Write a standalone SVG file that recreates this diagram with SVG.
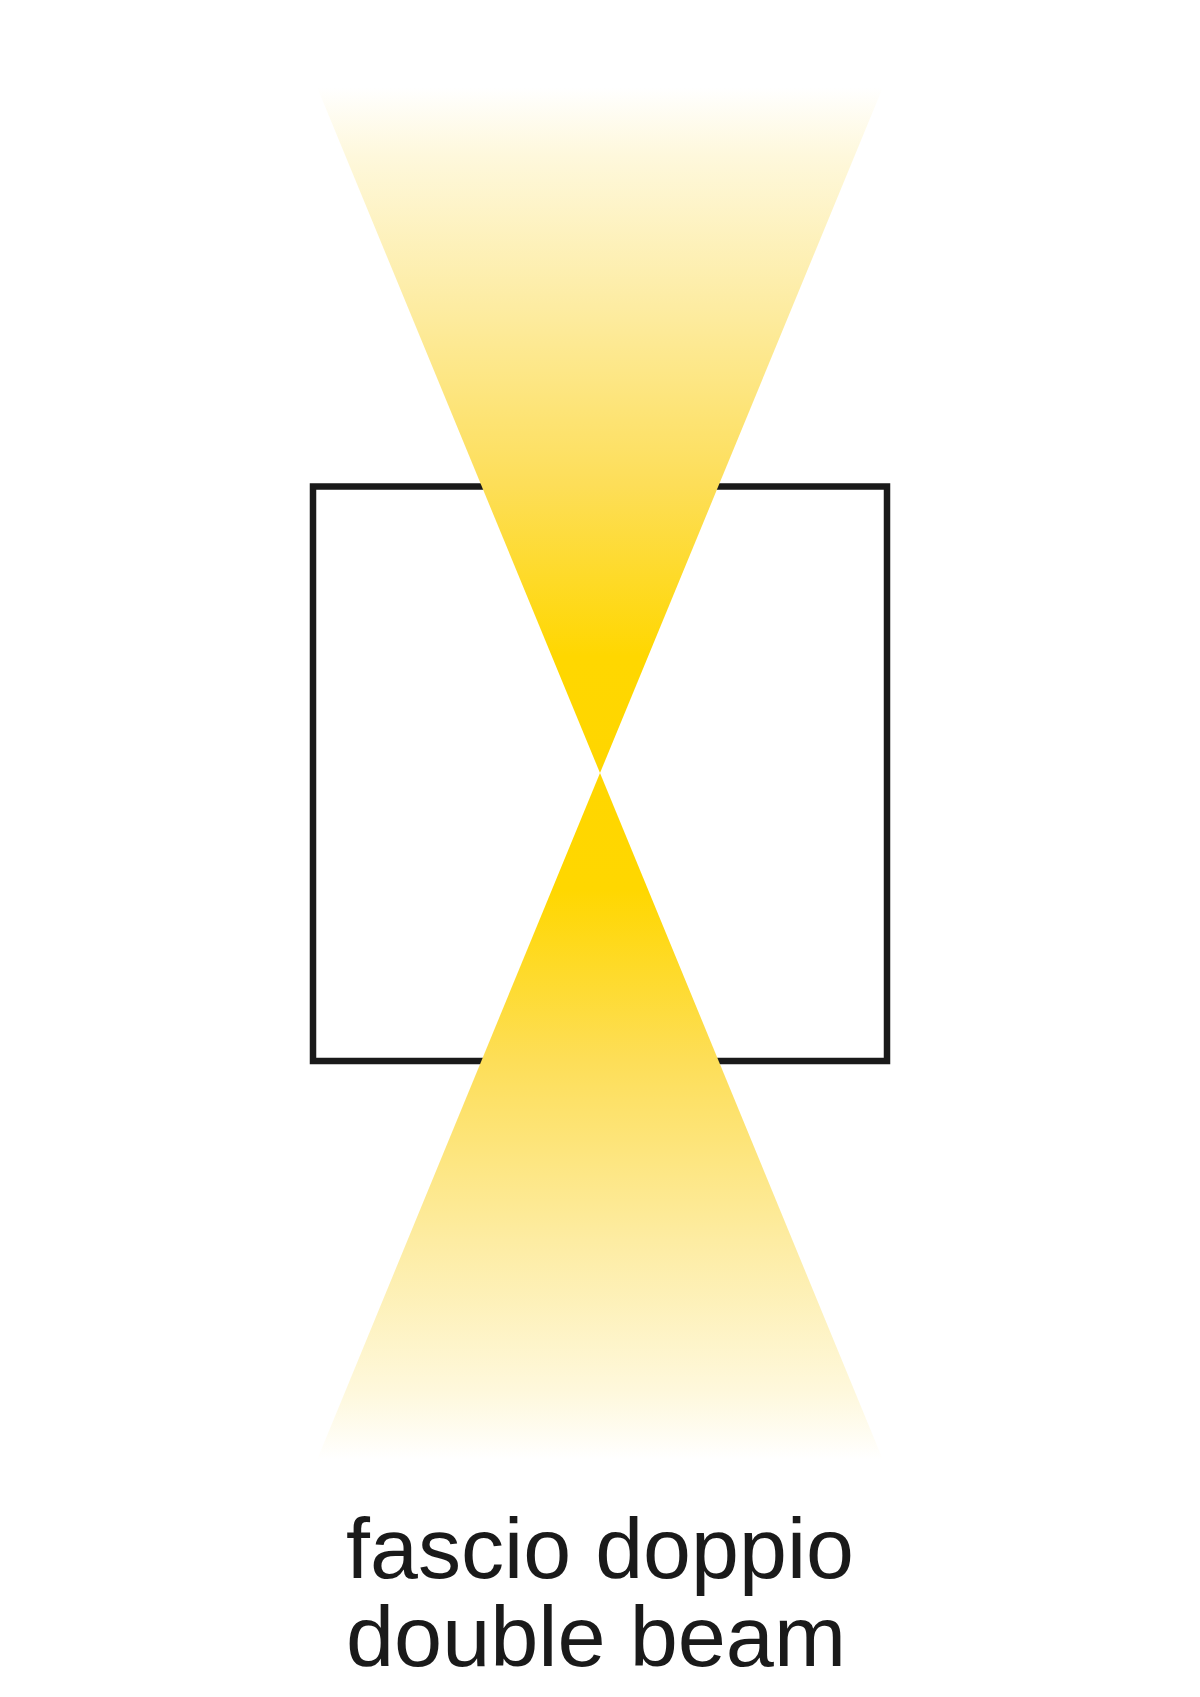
<svg xmlns="http://www.w3.org/2000/svg" width="1200" height="1697" viewBox="0 0 1200 1697">
  <defs>
    <linearGradient id="beamUp" gradientUnits="userSpaceOnUse" x1="0" y1="773" x2="0" y2="87">
      <stop offset="0" stop-color="#FFD600"/>
      <stop offset="0.17" stop-color="#FFD700"/>
      <stop offset="0.42" stop-color="#FDDE58"/>
      <stop offset="0.68" stop-color="#FDECA2"/>
      <stop offset="0.9" stop-color="#FEF8DC"/>
      <stop offset="1" stop-color="#FFFFFF"/>
    </linearGradient>
    <linearGradient id="beamDown" gradientUnits="userSpaceOnUse" x1="0" y1="773" x2="0" y2="1460">
      <stop offset="0" stop-color="#FFD600"/>
      <stop offset="0.17" stop-color="#FFD700"/>
      <stop offset="0.42" stop-color="#FDDE58"/>
      <stop offset="0.68" stop-color="#FDECA2"/>
      <stop offset="0.9" stop-color="#FEF8DC"/>
      <stop offset="1" stop-color="#FFFFFF"/>
    </linearGradient>
  </defs>
  <style>
    .frame { fill: none; stroke: #1a1a1a; stroke-width: 6.5; }
    .label { font-family: "Liberation Sans", Arial, sans-serif; font-size: 86px; fill: #1a1a1a; }
  </style>
  <rect width="1200" height="1697" fill="#FFFFFF"/>
  <g id="fixture">
    <rect class="frame" x="313" y="486.5" width="574" height="574.5"/>
  </g>
  <g id="beam-up">
    <polygon points="600,773 317,87 883,87" fill="url(#beamUp)"/>
  </g>
  <g id="beam-down">
    <polygon points="600,773 317,1460 883,1460" fill="url(#beamDown)"/>
  </g>
  <g id="caption">
    <text class="label" x="346" y="1578" textLength="508" lengthAdjust="spacingAndGlyphs">fascio doppio</text>
    <text class="label" x="346" y="1666" textLength="500" lengthAdjust="spacingAndGlyphs">double beam</text>
  </g>
</svg>
